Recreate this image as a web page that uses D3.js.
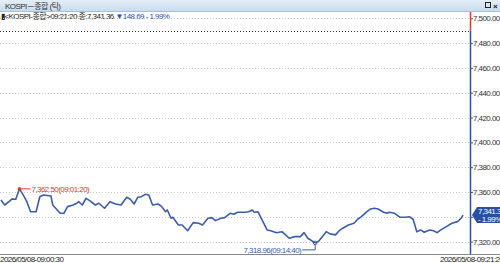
<!DOCTYPE html>
<html lang="ko">
<head>
<meta charset="utf-8">
<title>KOSPI 종합 (틱)</title>
<script src="https://cdn.jsdelivr.net/npm/d3@7"></script>
<style>
  body { margin: 0; background: #fff; }
  svg text { font-family: "Liberation Sans", "Noto Sans CJK KR", sans-serif; font-size: 8px; letter-spacing: -0.55px; }
  .grid line { stroke: #c8c8c8; stroke-dasharray: 1, 2; }
  .ytick text { fill: #333; }
</style>
</head>
<body>
<script>
// tick times and index values
var times = ["09:00:30","09:00:40","09:00:55","09:01:00","09:01:10","09:01:20","09:01:30","09:01:40","09:01:50","09:02:05",
  "09:02:15","09:02:25","09:02:45","09:02:50","09:03:10","09:03:20","09:03:30","09:03:45","09:03:55","09:04:00",
  "09:04:10","09:04:20","09:04:30","09:04:45","09:04:55","09:05:10","09:05:25","09:05:40","09:05:55","09:06:10",
  "09:06:20","09:06:30","09:06:40","09:06:50","09:07:00","09:07:10","09:07:20","09:07:35","09:07:45","09:07:55",
  "09:08:00","09:08:10","09:08:15","09:08:30","09:08:40","09:08:55","09:09:10","09:09:25","09:09:35","09:09:50",
  "09:10:00","09:10:10","09:10:25","09:10:35","09:10:50","09:11:00","09:11:10","09:11:30","09:11:40","09:11:50",
  "09:11:55","09:12:05","09:12:30","09:12:40","09:12:55","09:13:10","09:13:20","09:13:30","09:13:45","09:14:00",
  "09:14:10","09:14:20","09:14:40","09:14:50","09:15:10","09:15:20","09:15:35","09:15:45","09:15:55","09:16:10",
  "09:16:25","09:16:35","09:16:45","09:17:00","09:17:10","09:17:20","09:17:30","09:17:45","09:17:55","09:18:00",
  "09:18:15","09:18:30","09:18:45","09:18:55","09:19:05","09:19:15","09:19:25","09:19:35","09:19:50","09:20:00",
  "09:20:10","09:20:20","09:20:35","09:20:50","09:21:05","09:21:15","09:21:20"];
var values = [7353.6,7349.5,7353.0,7354.4,7354.1,7362.5,7357.6,7352.2,7344.1,7344.1,
  7356.2,7357.6,7356.8,7349.5,7342.8,7342.8,7348.2,7349.5,7350.9,7352.2,
  7349.5,7354.9,7353.0,7349.5,7350.9,7346.9,7352.2,7350.3,7349.5,7355.7,
  7354.1,7350.3,7355.7,7356.2,7358.1,7357.6,7349.5,7350.3,7348.2,7344.1,
  7345.5,7338.8,7339.6,7333.4,7333.4,7328.8,7335.3,7334.8,7333.4,7338.8,
  7339.3,7336.9,7338.8,7339.3,7342.8,7342.0,7343.7,7343.7,7344.1,7345.5,
  7343.7,7344.1,7329.4,7328.8,7327.2,7328.0,7325.4,7322.7,7324.0,7324.0,
  7327.2,7322.7,7318.96,7320.5,7328.0,7326.2,7325.4,7328.8,7330.8,7333.4,
  7334.8,7338.0,7340.1,7344.1,7346.3,7346.9,7346.3,7343.7,7342.8,7343.7,
  7342.8,7339.6,7339.6,7340.1,7338.0,7328.0,7329.4,7327.5,7329.4,7328.8,
  7327.2,7329.4,7332.1,7334.8,7336.1,7338.8,7341.36];
var yTicks = [7500, 7480, 7460, 7440, 7420, 7400, 7380, 7360, 7340, 7320];
var prevClose = 7490.05;
var change = -148.69, changePct = -1.99;
var dateStr = "2026/05/08";

var w = 500, h = 263;
var axisX = 470, bottom = 254;

var parseTime = d3.timeParse("%H:%M:%S");
var data = times.map(function(t, i) { return { t: parseTime(t), v: values[i] }; });

var t0 = data[0].t, tN = data[data.length - 1].t;
var xScale = d3.scaleTime().domain([t0, tN]).range([1, 463]);
var yScale = d3.scaleLinear().domain([7320, 7500]).range([241.6, 18.3]);

var fmt = d3.format(",.2f");
var lastV = values[values.length - 1];

var svg = d3.select("body").append("svg").attr("width", w).attr("height", h);

// title bar
var grad = svg.append("defs").append("linearGradient").attr("id", "tb").attr("x1", 0).attr("x2", 0).attr("y1", 0).attr("y2", 1);
grad.append("stop").attr("offset", "0%").attr("stop-color", "#e4eef8");
grad.append("stop").attr("offset", "100%").attr("stop-color", "#c9dcef");
svg.append("rect").attr("x", 0).attr("y", 0).attr("width", w).attr("height", 11).attr("fill", "url(#tb)");
svg.append("line").attr("x1", 0).attr("x2", w).attr("y1", 11.5).attr("y2", 11.5).attr("stroke", "#a9c0d8");
svg.append("text").attr("x", 5).attr("y", 8.5).attr("fill", "#333").text("KOSPI－종합 (틱)");
svg.append("rect").attr("x", 485.5).attr("y", 2.5).attr("width", 5).attr("height", 5).attr("fill", "none").attr("stroke", "#222");
svg.append("text").attr("x", 493).attr("y", 8.5).attr("fill", "#222").attr("font-weight", "bold").text("×");

// info row
var info = svg.append("text").attr("x", 1).attr("y", 19);
info.append("tspan").attr("fill", "#222").text("▮<KOSPI-종합>" + times[times.length - 1] + " 종:" + fmt(lastV) + " ");
info.append("tspan").attr("fill", "#2b4ea0").text("▼" + fmt(-change) + "  - " + d3.format(".2f")(-changePct) + "%");

// grid
svg.append("g").attr("class", "grid")
  .selectAll("line").data(yTicks).enter().append("line")
  .attr("x1", 0).attr("x2", axisX)
  .attr("y1", function(d) { return Math.round(yScale(d)) + 0.5; })
  .attr("y2", function(d) { return Math.round(yScale(d)) + 0.5; });

// previous close
svg.append("line")
  .attr("x1", 0).attr("x2", axisX)
  .attr("y1", Math.round(yScale(prevClose)) + 0.5).attr("y2", Math.round(yScale(prevClose)) + 0.5)
  .attr("stroke", "#333").attr("stroke-dasharray", "1,2");

// bottom axis line
svg.append("line").attr("x1", 0).attr("x2", w).attr("y1", bottom + 0.5).attr("y2", bottom + 0.5).attr("stroke", "#888");

// y axis on the right (label under the last-value tag is hidden)
var yAxis = d3.axisRight(yScale).tickValues(yTicks).tickSize(3).tickFormat(fmt);
var yg = svg.append("g").attr("class", "ytick").attr("transform", "translate(" + axisX + ",0)").call(yAxis);
yg.select(".domain").remove();
yg.selectAll(".tick line").attr("stroke", "#555");
yg.selectAll(".tick text").attr("x", 3).attr("font-size", 8).attr("font-family", null)
  .style("display", function(d) { return Math.abs(yScale(d) - yScale(lastV)) < 8 ? "none" : null; });

svg.append("line").attr("x1", axisX + 0.5).attr("x2", axisX + 0.5).attr("y1", 12).attr("y2", yScale(prevClose))
  .attr("stroke", "#e0352b").attr("stroke-width", 1.5);
svg.append("line").attr("x1", axisX + 0.5).attr("x2", axisX + 0.5).attr("y1", yScale(prevClose)).attr("y2", bottom)
  .attr("stroke", "#2b4ea0").attr("stroke-width", 1.5);

// price line
var line = d3.line()
  .x(function(d) { return xScale(d.t); })
  .y(function(d) { return yScale(d.v); });
svg.append("path").datum(data).attr("d", line)
  .attr("fill", "none").attr("stroke", "#3d5da8").attr("stroke-width", 1.6).attr("stroke-linejoin", "round");

// high marker
var hi = data[d3.maxIndex(data, function(d) { return d.v; })];
var hx = xScale(hi.t), hy = yScale(hi.v);
svg.append("circle").attr("cx", hx).attr("cy", hy).attr("r", 1.8).attr("fill", "#e0352b");
svg.append("line").attr("x1", hx).attr("x2", hx + 11).attr("y1", hy).attr("y2", hy).attr("stroke", "#e0352b");
svg.append("text").attr("x", hx + 12).attr("y", hy + 3).attr("fill", "#e0352b")
  .text(fmt(hi.v) + "(" + d3.timeFormat("%H:%M:%S")(hi.t) + ")");

// low marker
var lo = data[d3.minIndex(data, function(d) { return d.v; })];
var lx = xScale(lo.t), ly = yScale(lo.v);
svg.append("circle").attr("cx", lx).attr("cy", ly).attr("r", 1.8).attr("fill", "none").attr("stroke", "#3d5da8");
svg.append("path").attr("d", "M" + lx + "," + (ly + 2) + "V" + (ly + 7) + "H" + (lx - 13))
  .attr("fill", "none").attr("stroke", "#3d5da8");
svg.append("text").attr("x", lx - 14).attr("y", ly + 10).attr("text-anchor", "end").attr("fill", "#3d5da8")
  .text(fmt(lo.v) + "(" + d3.timeFormat("%H:%M:%S")(lo.t) + ")");

// last value tag
var ly2 = yScale(lastV);
svg.append("path")
  .attr("d", "M" + (axisX + 2) + "," + ly2 + "L" + (axisX + 7) + "," + (ly2 - 8) + "H" + w + "V" + (ly2 + 8) + "H" + (axisX + 7) + "Z")
  .attr("fill", "#2b4ea0");
svg.append("text").attr("x", axisX + 8).attr("y", ly2 - 1).attr("fill", "#fff").text(fmt(lastV));
svg.append("text").attr("x", axisX + 8).attr("y", ly2 + 7).attr("fill", "#fff").text("- " + d3.format(".2f")(-changePct) + "%");

// time labels
svg.append("text").attr("x", 0).attr("y", 261.5).attr("fill", "#222").text(dateStr + "-" + times[0]);
svg.append("text").attr("x", 440).attr("y", 261.5).attr("fill", "#222").text(dateStr + "-" + times[times.length - 1]);
</script>
</body>
</html>
